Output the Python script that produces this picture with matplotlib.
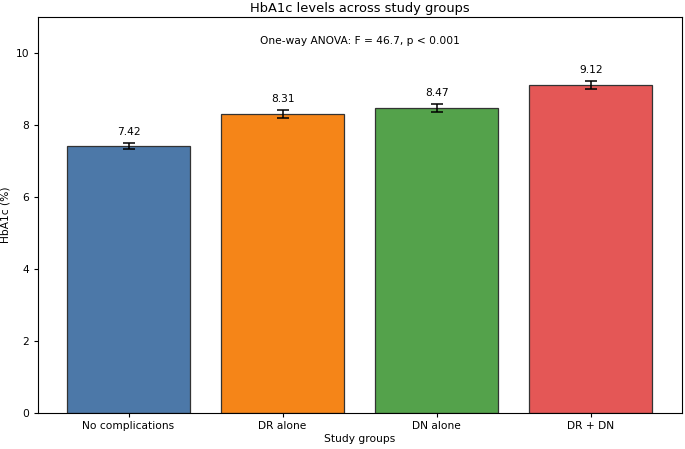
import matplotlib
matplotlib.use("Agg")
import matplotlib.pyplot as plt
import numpy as np

# data
groups = ["No complications", "DR alone", "DN alone", "DR + DN"]
hba1c_mean = [7.42, 8.31, 8.47, 9.12]
hba1c_sem = [0.09, 0.12, 0.12, 0.11]
colors = ["#4c78a8", "#f58518", "#54a24b", "#e45756"]
anova_text = "One-way ANOVA: F = 46.7, p < 0.001"

fig, ax = plt.subplots(figsize=(6.85, 4.49), dpi=100)
x = np.arange(len(groups))
ax.bar(x, hba1c_mean, yerr=hba1c_sem, color=colors, edgecolor="#333333",
       linewidth=0.9, capsize=4.5, error_kw={"elinewidth": 1.1, "capthick": 1.1})

for xi, m, e in zip(x, hba1c_mean, hba1c_sem):
    ax.text(xi, m + e + 0.15, f"{m:.2f}", ha="center", va="bottom", fontsize=7.7)

ax.text(0.5, 0.94, anova_text, transform=ax.transAxes, ha="center", va="center", fontsize=7.7)

ax.set_xticks(x)
ax.set_xticklabels(groups, fontsize=7.7)
ax.tick_params(axis="both", labelsize=7.7, length=3, pad=3)
ax.set_ylim(0, 11)
ax.set_xlabel("Study groups", fontsize=7.7, labelpad=2)
ax.set_ylabel("HbA1c (%)", fontsize=7.7, labelpad=4)
ax.set_title("HbA1c levels across study groups", fontsize=9.4, pad=4)

plt.subplots_adjust(left=0.055, right=0.995, top=0.962, bottom=0.08)
fig.savefig("out.png", dpi=100)
